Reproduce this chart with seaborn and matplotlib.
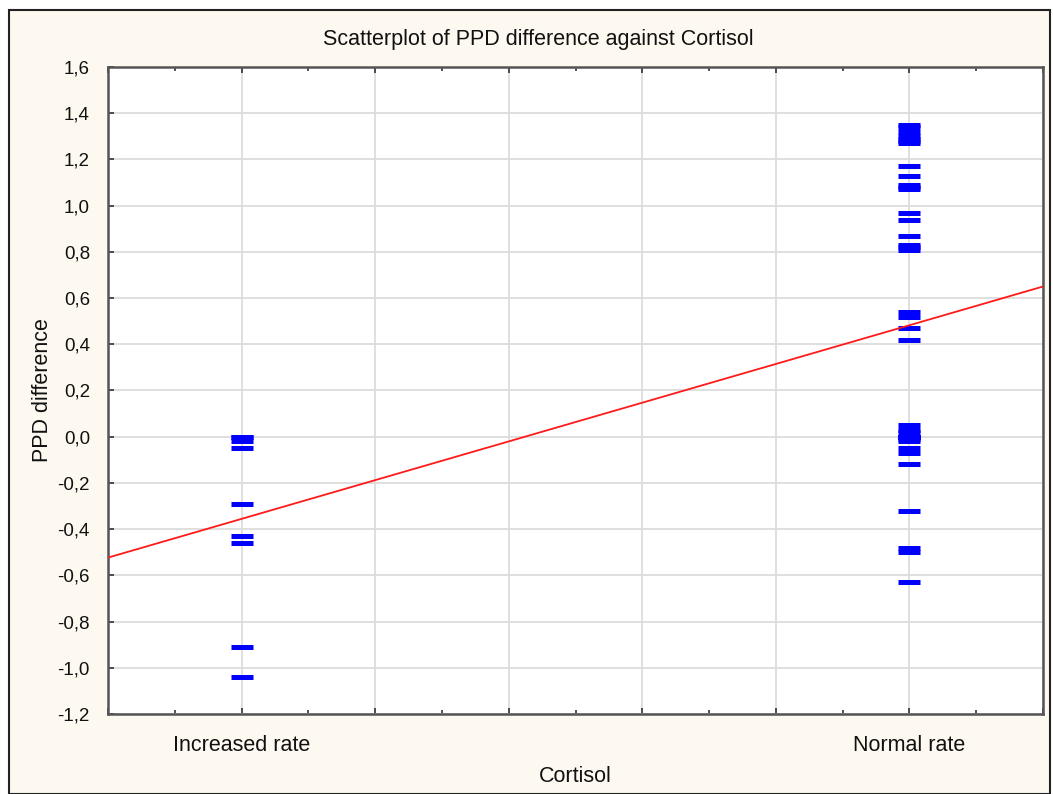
import numpy as np
import pandas as pd
import matplotlib
matplotlib.use('Agg')
import matplotlib.pyplot as plt
import seaborn as sns
from matplotlib.patches import Rectangle
from matplotlib.ticker import MultipleLocator, FuncFormatter

# datos
groups = ['Increased rate', 'Normal rate']
group_codes = [1, 2]

increased_vals = [0.0, 0.0, -0.02, -0.05, -0.29, -0.43, -0.46, -0.91, -1.04]
normal_vals = [1.35, 1.34, 1.32, 1.30, 1.29, 1.28, 1.27,
               1.17, 1.13, 1.09, 1.08, 1.07,
               0.97, 0.94, 0.87, 0.83, 0.82, 0.81,
               0.54, 0.52, 0.47, 0.42,
               0.05, 0.03, 0.02, 0.0, 0.0, 0.0, 0.0, 0.0, 0.0, 0.0,
               -0.01, -0.02, -0.05, -0.07, -0.12, -0.32, -0.48, -0.50, -0.63]

y_ticks = [-1.2, -1.0, -0.8, -0.6, -0.4, -0.2, 0.0, 0.2, 0.4, 0.6, 0.8, 1.0, 1.2, 1.4, 1.6]

df = pd.DataFrame({
    'Cortisol': [group_codes[0]] * len(increased_vals) + [group_codes[1]] * len(normal_vals),
    'PPD difference': increased_vals + normal_vals,
})

sns.set_style('white')
plt.rcParams['font.family'] = ['Liberation Sans', 'DejaVu Sans']

bg = '#fdf9f0'
fig = plt.figure(figsize=(10.53, 7.94), dpi=100, facecolor='white')
fig.patches.append(Rectangle((9 / 1053, 0), 1 - 12 / 1053, 1 - 10 / 794,
                             transform=fig.transFigure, facecolor=bg,
                             edgecolor='#222222', linewidth=1.5, zorder=-1))

ax = fig.add_axes([108 / 1053, 1 - 714 / 794, (1043 - 108) / 1053, (714 - 67) / 794])
ax.set_facecolor('white')
ax.set_xlim(0.8, 2.2)
ax.set_ylim(-1.2, 1.6)

# grid
ax.xaxis.set_major_locator(MultipleLocator(0.2))
ax.xaxis.set_minor_locator(MultipleLocator(0.1))
ax.set_yticks(y_ticks)
ax.grid(True, which='major', color='#dcdcdc', linewidth=1.3)
ax.set_axisbelow(True)

# puntos
sns.scatterplot(data=df, x='Cortisol', y='PPD difference', marker='_', s=260,
                color='#0000ff', linewidth=3.6, ax=ax, zorder=3)

# linea de regresion
sns.regplot(data=df, x='Cortisol', y='PPD difference', scatter=False, ci=None,
            truncate=False, color='#ff1a1a', line_kws={'linewidth': 1.3, 'zorder': 4}, ax=ax)
ax.set_xlim(0.8, 2.2)
ax.set_ylim(-1.2, 1.6)

for s in ax.spines.values():
    s.set_color('#555555')
    s.set_linewidth(1.8)

ax.tick_params(which='both', direction='in', top=True, bottom=True, left=True, right=False,
               color='#333333', width=1.2)
ax.tick_params(which='major', length=4)
ax.tick_params(which='minor', length=3)
ax.tick_params(axis='y', labelsize=13.5, pad=13, labelcolor='#111111')

ax.yaxis.set_major_formatter(FuncFormatter(lambda v, p: f'{v:.1f}'.replace('.', ',')))
ax.set_xticklabels([])

for code, name in zip(group_codes, groups):
    ax.text(code, -1.335, name, ha='center', va='center', fontsize=15.5, color='#111111',
            transform=ax.transData, clip_on=False)

ax.set_xlabel('Cortisol', fontsize=15.5, labelpad=34, color='#111111')
ax.set_ylabel('PPD difference', fontsize=15.5, labelpad=3, color='#111111')
fig.text(538 / 1053, 1 - 40 / 794, 'Scatterplot of PPD difference against Cortisol',
         ha='center', va='center', fontsize=15.5, color='#111111')

fig.savefig('out.png', dpi=100, facecolor=fig.get_facecolor())
